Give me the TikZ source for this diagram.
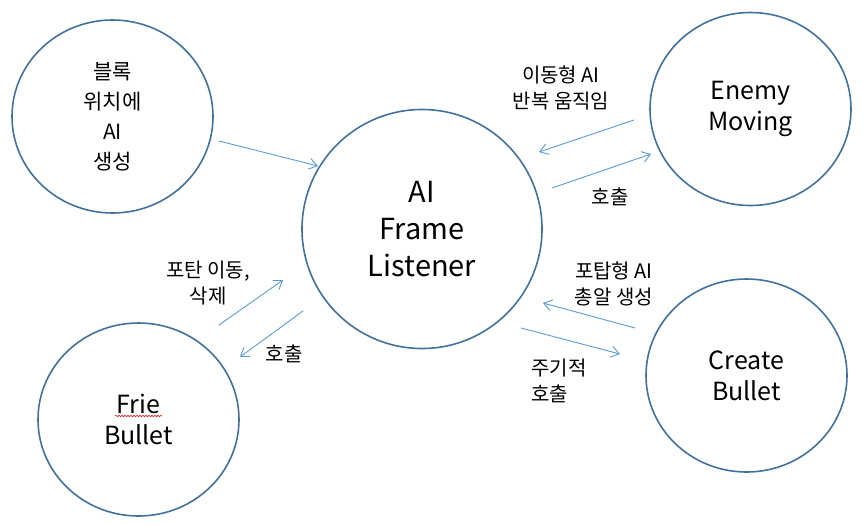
\documentclass[tikz,border=0pt]{standalone}
\usepackage{fontspec}
\setmainfont{Noto Sans CJK KR}
\usetikzlibrary{shapes.geometric,arrows.meta,decorations.pathmorphing}
\definecolor{ringblue}{HTML}{41719C}
\definecolor{flowblue}{HTML}{5B9BD5}
\tikzset{
  bubble/.style={ellipse, draw=ringblue, line width=1.6pt, inner sep=0pt,
    minimum width=201pt, minimum height=193pt, align=center,
    font=\fontsize{25}{31}\selectfont},
  flow/.style={draw=flowblue, line width=0.9pt, -{Straight Barb[length=8pt,width=11pt]}},
  note/.style={align=center, inner sep=0pt, font=\fontsize{20}{26}\selectfont}
}
\begin{document}
\begin{tikzpicture}[x=1pt, y=-1pt, line join=round, line cap=round]
	\useasboundingbox (0,0) rectangle (864,523);
	% circles
	\node[bubble, font=\fontsize{21}{30}\selectfont] (block) at (112.5,116.5) {블록\\위치에\\AI\\생성};
	\node[bubble, minimum width=240pt, minimum height=239pt, font=\fontsize{29}{37}\selectfont] (frame) at (422,229) {AI\\Frame\\Listener};
	\node[bubble] (enemy) at (750.5,109) {Enemy\\Moving};
	\node[bubble] (create) at (746.5,375.5) {Create\\Bullet};
	\node[bubble] (fire) at (138.5,419.5) {Frie\\Bullet};
	% spell check mark
	\draw[red, line width=0.5pt, decorate, decoration={snake, amplitude=0.8pt, segment length=3pt}]
		(115,416) -- (162,416);
	% arrow ends
	\path	(219,141) coordinate (b1) (318,166) coordinate (b2)
		(634,120) coordinate (e1) (539,152) coordinate (e2)
		(552,188) coordinate (e3) (651,154) coordinate (e4)
		(219,325) coordinate (f1) (283,280) coordinate (f2)
		(303,311) coordinate (f3) (240,357) coordinate (f4)
		(635,328) coordinate (c1) (543,303) coordinate (c2)
		(521,328) coordinate (c3) (620,354) coordinate (c4);
	\foreach \s/\t in {b1/b2,e1/e2,e3/e4,f1/f2,f3/f4,c1/c2,c3/c4}
		\draw[flow] (\s)--(\t);
	% labels
	\node[note] (lmove) at (561,88) {이동형 AI\\반복 움직임};
	\node[note] (lcall1) at (610,197) {호출};
	\node[note] (lshell) at (208,283) {포탄 이동,\\삭제};
	\node[note] (lcall2) at (284,354) {호출};
	\node[note] (lturret) at (614,284) {포탑형 AI\\총알 생성};
	\node[note, align=left, anchor=west] (lcycle) at (531,381) {주기적\\호출};
\end{tikzpicture}
\end{document}
